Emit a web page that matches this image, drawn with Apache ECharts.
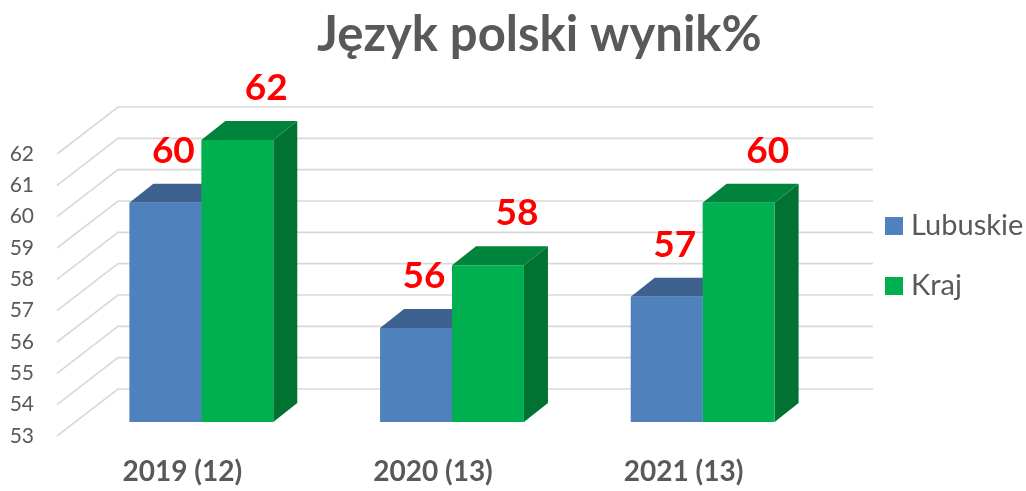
<!DOCTYPE html>
<html>
<head>
<meta charset="utf-8">
<script src="https://cdn.jsdelivr.net/npm/echarts@6/dist/echarts.min.js"></script>
<style>
  html, body { margin: 0; padding: 0; background: #fff; }
  #chart { width: 1026px; height: 491px; }
</style>
</head>
<body>
<div id="chart"></div>
<script>
const categories = ['2019 (12)', '2020 (13)', '2021 (13)'];
const lubuskie = [60, 56, 57];
const kraj = [62, 58, 60];
const yTicks = [53, 54, 55, 56, 57, 58, 59, 60, 61, 62];

// oblique "3d" offsets (px)
const FRONT = [19, -14];   // bar front plane from axis plane
const DEPTH = [24, -19];   // bar depth
const WALL = [61, -47];    // back wall from axis plane
const BAR_RATIO = 0.287;
const Y_MIN = 53;

const faces = {
  Lubuskie: { front: '#4F81BD', top: '#3E6290', side: '#34557E', labelDx: 8 },
  Kraj: { front: '#00B050', top: '#00843C', side: '#007232', labelDx: 29 }
};

function wallItem(params, api) {
  const cs = params.coordSys;
  const y = api.coord([0, api.value(0)])[1];
  const x = cs.x;
  return {
    type: 'polyline',
    shape: { points: [[x, y], [x + WALL[0], y + WALL[1]], [x + cs.width + WALL[0] + 3, y + WALL[1]]] },
    style: { stroke: '#D9D9D9', lineWidth: 1.6, fill: null },
    silent: true
  };
}

function barItem(name, left) {
  const f = faces[name];
  return function (params, api) {
    const cat = api.value(0);
    const val = api.value(1);
    const top = api.coord([cat, val]);
    const base = api.coord([cat, Y_MIN]);
    const band = api.size([1, 0])[0];
    const w = band * BAR_RATIO;
    const x0 = top[0] + FRONT[0] + (left ? -w : 0);
    const x1 = x0 + w;
    const yt = top[1] + FRONT[1];
    const yb = base[1] + FRONT[1];
    const dx = DEPTH[0], dy = DEPTH[1];
    return {
      type: 'group',
      children: [
        { type: 'polygon', shape: { points: [[x1, yt], [x1 + dx, yt + dy], [x1 + dx, yb + dy], [x1, yb]] }, style: { fill: f.side } },
        { type: 'polygon', shape: { points: [[x0, yt], [x0 + dx, yt + dy], [x1 + dx, yt + dy], [x1, yt]] }, style: { fill: f.top } },
        { type: 'rect', shape: { x: x0, y: yt, width: w, height: yb - yt }, style: { fill: f.front } },
        {
          type: 'text',
          x: (x0 + x1) / 2 + f.labelDx,
          y: yt - 52,
          style: {
            text: String(val),
            fill: '#FF0000',
            font: 'bold 37px Lato',
            align: 'center',
            verticalAlign: 'middle'
          }
        }
      ]
    };
  };
}

const chart = echarts.init(document.getElementById('chart'));
chart.setOption({
  animation: false,
  textStyle: { fontFamily: 'Lato' },
  title: {
    text: 'Język polski wynik%',
    left: 312,
    top: 6,
    textStyle: { fontFamily: 'Lato', fontWeight: 'bold', fontSize: 49, color: '#595959' }
  },
  legend: {
    data: ['Lubuskie', 'Kraj'],
    orient: 'vertical',
    left: 885,
    top: 211,
    padding: 0,
    icon: 'rect',
    itemWidth: 18,
    itemHeight: 18,
    itemGap: 30,
    textStyle: { fontFamily: 'Lato', fontSize: 29, color: '#595959', lineHeight: 30, padding: [0, 0, 0, 3] }
  },
  grid: { left: 57, right: 217, top: 154, bottom: 55 },
  xAxis: {
    type: 'category',
    data: categories,
    axisLine: { show: false },
    axisTick: { show: false },
    axisLabel: { fontFamily: 'Lato', fontWeight: 'bold', fontSize: 28, color: '#595959', margin: 22 }
  },
  yAxis: {
    type: 'value',
    min: 53,
    max: 62,
    interval: 1,
    axisLine: { show: false },
    axisTick: { show: false },
    splitLine: { show: false },
    axisLabel: { fontFamily: 'Lato', fontSize: 21, color: '#595959', margin: 23 }
  },
  series: [
    {
      name: 'walls',
      type: 'custom',
      data: yTicks.map(v => [v]),
      encode: { y: 0 },
      renderItem: wallItem,
      silent: true,
      z: 1
    },
    {
      name: 'Lubuskie',
      type: 'custom',
      data: lubuskie.map((v, i) => [i, v]),
      itemStyle: { color: faces.Lubuskie.front },
      renderItem: barItem('Lubuskie', true),
      z: 2
    },
    {
      name: 'Kraj',
      type: 'custom',
      data: kraj.map((v, i) => [i, v]),
      itemStyle: { color: faces.Kraj.front },
      renderItem: barItem('Kraj', false),
      z: 3
    }
  ]
});
</script>
</body>
</html>
